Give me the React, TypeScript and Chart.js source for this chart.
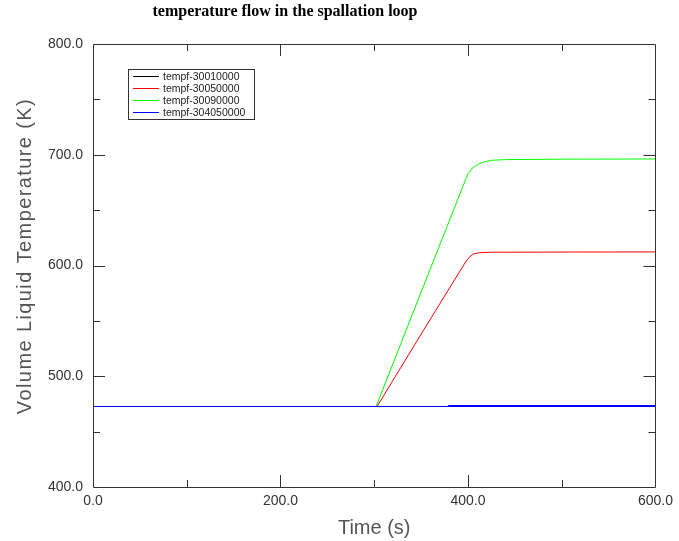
import React, { useEffect, useRef } from 'react';
import { Chart, registerables } from 'chart.js';

Chart.register(...registerables);

const chartTitle = 'temperature flow in the spallation loop';
const xAxisTitle = 'Time (s)';
const yAxisTitle = 'Volume Liquid Temperature (K)';

const seriesLabels = ['tempf-30010000', 'tempf-30050000', 'tempf-30090000', 'tempf-304050000'];
const seriesColors = ['#000000', '#ff0000', '#00ff00', '#0000ff'];

// tempf-30010000 (black)
const blackTime = [0, 300, 380, 380, 600];
const blackTemp = [472.7, 472.7, 472.7, 473.15, 473.15];

// tempf-30050000 (red)
const redTime = [0, 303, 350, 398, 402, 406, 412, 425, 600];
const redTemp = [472.7, 472.7, 538, 604, 608, 610.5, 611.5, 612, 612.3];

// tempf-30090000 (green)
const greenTime = [0, 302, 350, 400, 405, 410, 415, 425, 440, 500, 600];
const greenTemp = [472.7, 472.7, 576, 683, 688, 691, 693, 695, 695.6, 696, 696.2];

// tempf-304050000 (blue)
const blueTime = [0, 380, 380, 600];
const blueTemp = [472.7, 472.7, 473.15, 473.15];

const blueThickFrom = 380;

const xMin = 0;
const xMax = 600;
const xLabelStep = 200;
const xTickStep = 100;
const yMin = 400;
const yMax = 800;
const yLabelStep = 100;
const yTickStep = 50;

const toPoints = (t: number[], v: number[]) => t.map((x, i) => ({ x, y: v[i] }));

const frameAndLegend = {
  id: 'frameAndLegend',
  afterDraw(chart: any) {
    const ctx: CanvasRenderingContext2D = chart.ctx;
    const { left, right, top, bottom } = chart.chartArea;
    const xs = chart.scales.x;
    const ys = chart.scales.y;
    ctx.save();
    // frame
    ctx.strokeStyle = '#333333';
    ctx.lineWidth = 1;
    ctx.beginPath();
    ctx.rect(Math.round(left) + 0.5, Math.round(top) + 0.5, Math.round(right - left), Math.round(bottom - top));
    ctx.stroke();
    // ticks
    ctx.beginPath();
    for (let v = xMin + xTickStep; v < xMax; v += xTickStep) {
      const px = Math.round(xs.getPixelForValue(v)) + 0.5;
      const len = v % xLabelStep === 0 ? 12 : 7;
      ctx.moveTo(px, bottom);
      ctx.lineTo(px, bottom - len);
      ctx.moveTo(px, top);
      ctx.lineTo(px, top + len);
    }
    for (let v = yMin + yTickStep; v < yMax; v += yTickStep) {
      const py = Math.round(ys.getPixelForValue(v)) + 0.5;
      const len = v % yLabelStep === 0 ? 12 : 7;
      ctx.moveTo(left, py);
      ctx.lineTo(left + len, py);
      ctx.moveTo(right, py);
      ctx.lineTo(right - len, py);
    }
    ctx.stroke();

    // title
    ctx.fillStyle = '#000000';
    ctx.font = 'bold 16px "Liberation Serif"';
    ctx.textAlign = 'center';
    ctx.textBaseline = 'alphabetic';
    ctx.fillText(chartTitle, 285, 16);

    // x axis title
    ctx.fillStyle = '#555555';
    ctx.font = '20px "Liberation Sans"';
    ctx.fillText(xAxisTitle, (left + right) / 2, 534);

    // y axis title
    ctx.save();
    ctx.translate(31, 256);
    ctx.rotate(-Math.PI / 2);
    (ctx as any).letterSpacing = '1.4px';
    ctx.fillText(yAxisTitle, 0, 0);
    ctx.restore();

    // legend
    const bx = 128.5, by = 69.5, bw = 126, bh = 50;
    ctx.fillStyle = '#ffffff';
    ctx.fillRect(bx, by, bw, bh);
    ctx.strokeStyle = '#333333';
    ctx.strokeRect(bx, by, bw, bh);
    ctx.font = '10.5px "Liberation Sans"';
    ctx.textAlign = 'left';
    ctx.textBaseline = 'middle';
    chart.data.datasets.forEach((ds: any, i: number) => {
      const ry = Math.round(75.7 + i * 12.2) + 0.5;
      ctx.strokeStyle = ds.borderColor;
      ctx.beginPath();
      ctx.moveTo(133, ry);
      ctx.lineTo(159, ry);
      ctx.stroke();
      ctx.fillStyle = '#222222';
      ctx.fillText(ds.label, 163, ry + 0.5);
    });
    ctx.restore();
  },
};

export default function App() {
  const canvasRef = useRef<HTMLCanvasElement | null>(null);

  useEffect(() => {
    if (!canvasRef.current) return;
    const series = [
      toPoints(blackTime, blackTemp),
      toPoints(redTime, redTemp),
      toPoints(greenTime, greenTemp),
      toPoints(blueTime, blueTemp),
    ];
    const chart = new Chart(canvasRef.current, {
      type: 'line',
      data: {
        datasets: series.map((data, i) => ({
          label: seriesLabels[i],
          data,
          borderColor: seriesColors[i],
          backgroundColor: seriesColors[i],
          borderWidth: 1,
          pointRadius: 0,
          tension: 0,
          fill: false,
          order: series.length - 1 - i,
          segment: i === 3
            ? { borderWidth: (c: any) => (c.p0.parsed.x >= blueThickFrom ? 2 : 1) }
            : undefined,
        })),
      },
      options: {
        animation: false,
        responsive: false,
        devicePixelRatio: 1,
        parsing: false,
        layout: { padding: { top: 44, right: 22, bottom: 0, left: 0 } },
        plugins: {
          legend: { display: false },
          title: { display: false },
          tooltip: { enabled: false },
        },
        scales: {
          x: {
            type: 'linear',
            min: xMin,
            max: xMax,
            grid: { display: false, drawTicks: false },
            border: { display: false },
            afterFit: (s: any) => { s.height = 54; },
            ticks: {
              stepSize: xLabelStep,
              padding: 6,
              maxRotation: 0,
              color: '#333333',
              font: { family: '"Liberation Sans"', size: 14 },
              callback: (v: any) => Number(v).toFixed(1),
            },
          },
          y: {
            type: 'linear',
            min: yMin,
            max: yMax,
            grid: { display: false, drawTicks: false },
            border: { display: false },
            afterFit: (s: any) => { s.width = 93; },
            ticks: {
              stepSize: yLabelStep,
              padding: 10,
              color: '#333333',
              font: { family: '"Liberation Sans"', size: 14 },
              callback: (v: any) => Number(v).toFixed(1),
            },
          },
        },
      },
      plugins: [frameAndLegend],
    });
    return () => chart.destroy();
  }, []);

  return (
    <div style={{ position: 'fixed', left: 0, top: 0, width: 679, height: 541, background: '#ffffff' }}>
      <canvas ref={canvasRef} width={679} height={541} style={{ display: 'block' }} />
    </div>
  );
}
